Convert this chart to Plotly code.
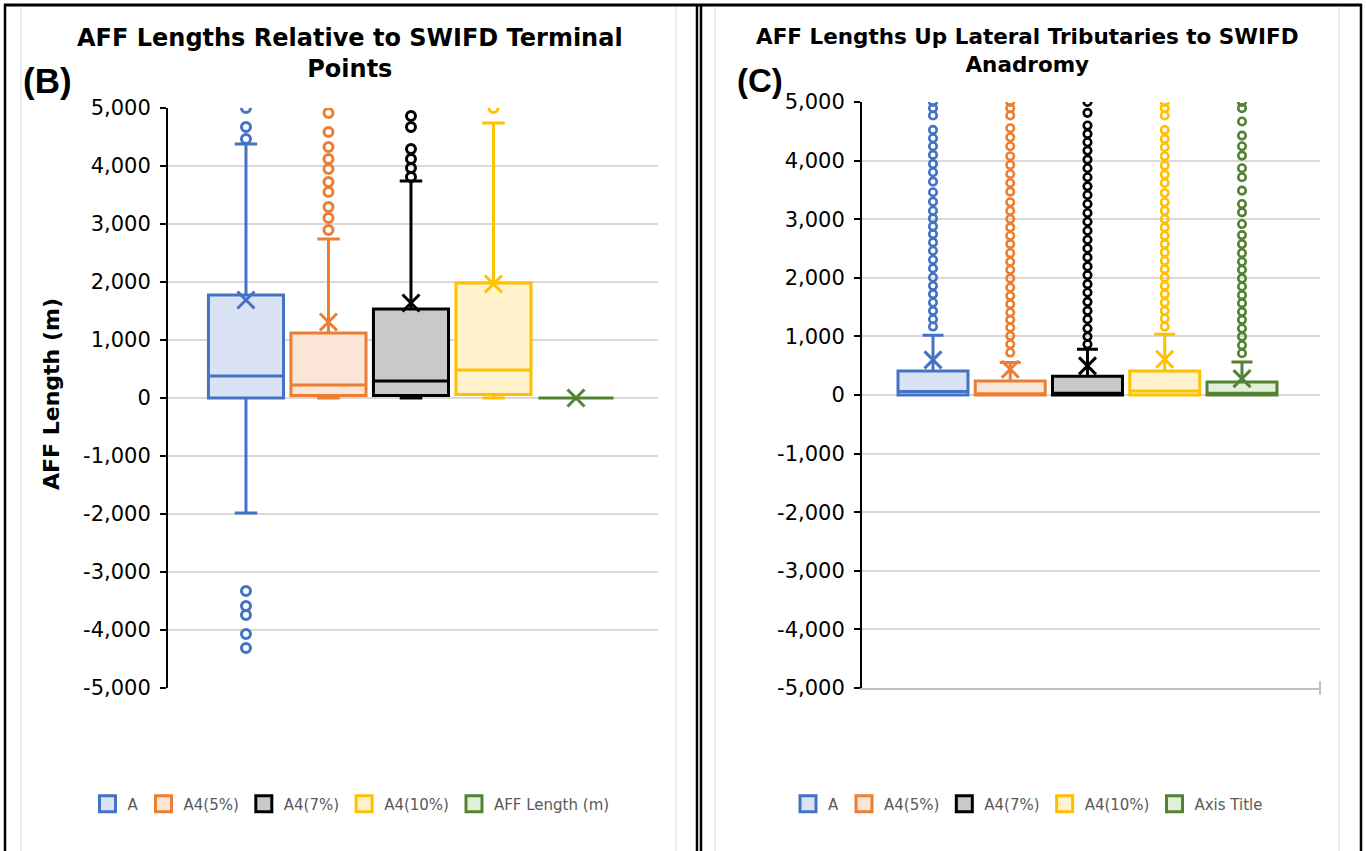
import plotly.graph_objects as go

W, H = 1366, 851

# ---------------- data ----------------
series_left = ["A", "A4(5%)", "A4(7%)", "A4(10%)", "AFF Length (m)"]
series_right = ["A", "A4(5%)", "A4(7%)", "A4(10%)", "Axis Title"]
line_colors = ["#4472C4", "#ED7D31", "#000000", "#FFC000", "#548235"]
fill_colors = ["#DAE3F3", "#FBE5D6", "#C9C9C9", "#FFF2CC", "#E2F0D9"]

# (B) AFF Lengths Relative to SWIFD Terminal Points
left_q1 = [0, 45, 45, 60, 0]
left_median = [379, 224, 293, 483, 0]
left_q3 = [1776, 1121, 1534, 1983, 0]
left_lower = [-1983, 0, 0, 0, 0]
left_upper = [4380, 2741, 3741, 4741, 0]
left_mean = [1690, 1310, 1638, 1966, 0]
left_out_A = [5000, 4672, 4465, -3328, -3586, -3741, -4069, -4310]
left_out_A4_5 = [5080, 4914, 4586, 4328, 4121, 3948, 3724, 3552, 3293, 3103, 2897]
left_out_A4_7 = [4862, 4672, 4293, 4121, 3966, 3810]
left_out_A4_10 = [5000]
left_out_AFF = []

# (C) AFF Lengths Up Lateral Tributaries to SWIFD Anadromy
right_q1 = [0, 0, 0, 0, 0]
right_median = [60, 20, 30, 68, 30]
right_q3 = [410, 240, 320, 410, 222]
right_lower = [0, 0, 0, 0, 0]
right_upper = [1020, 553, 781, 1037, 564]
right_mean = [600, 440, 496, 610, 280]
right_out_A = [5000, 4895, 4769, 4524, 4382, 4245, 4097, 3943, 3801, 3641, 3459, 3299,
               3145, 3014, 2877, 2746, 2604, 2462, 2308, 2160, 2006, 1863, 1721, 1578,
               1436, 1293, 1168]
right_out_A4_5 = [5000, 4895, 4769, 4553, 4399, 4245, 4074, 3926, 3772, 3618, 3470, 3288,
                  3145, 3003, 2860, 2718, 2575, 2422, 2274, 2137, 1989, 1835, 1692, 1550,
                  1407, 1282, 1151, 1009, 866, 724]
right_out_A4_7 = [5000, 4815, 4598, 4456, 4313, 4171, 4017, 3869, 3715, 3561, 3413, 3259,
                  3105, 2957, 2803, 2650, 2501, 2348, 2194, 2046, 1892, 1749, 1590, 1436,
                  1293, 1134, 997, 866]
right_out_A4_10 = [5000, 4895, 4769, 4524, 4370, 4228, 4074, 3915, 3761, 3618, 3447, 3288,
                   3145, 3003, 2860, 2718, 2575, 2433, 2291, 2148, 2006, 1863, 1721, 1578,
                   1436, 1305, 1168]
right_out_AT = [5000, 4895, 4667, 4427, 4245, 4085, 3869, 3715, 3487, 3259, 3117, 2917,
                2729, 2575, 2422, 2274, 2137, 1989, 1852, 1704, 1567, 1419, 1282, 1134,
                997, 849, 712]

y_ticks = [-5000, -4000, -3000, -2000, -1000, 0, 1000, 2000, 3000, 4000, 5000]
y_tick_text = ["-5,000", "-4,000", "-3,000", "-2,000", "-1,000", "0",
               "1,000", "2,000", "3,000", "4,000", "5,000"]

left_outliers = [left_out_A, left_out_A4_5, left_out_A4_7, left_out_A4_10, left_out_AFF]
right_outliers = [right_out_A, right_out_A4_5, right_out_A4_7, right_out_A4_10, right_out_AT]


def px(x):
    return x / W


def py(y):
    return 1 - y / H


fig = go.Figure()


def add_panel(names, q1, med, q3, lo, hi, mean, outs, xa, ya, legend, box_w, out_size, out_lw):
    for i, n in enumerate(names):
        fig.add_trace(go.Box(
            x=[n], q1=[q1[i]], median=[med[i]], q3=[q3[i]],
            lowerfence=[lo[i]], upperfence=[hi[i]],
            width=box_w, whiskerwidth=0.3,
            line=dict(color=line_colors[i], width=3),
            fillcolor=fill_colors[i], boxpoints=False,
            showlegend=False, hoverinfo="skip", xaxis=xa, yaxis=ya,
        ))
    for i, n in enumerate(names):
        if outs[i]:
            fig.add_trace(go.Scatter(
                x=[n] * len(outs[i]), y=outs[i], mode="markers",
                marker=dict(symbol="circle-open", size=out_size, color=line_colors[i],
                            line=dict(color=line_colors[i], width=out_lw)),
                showlegend=False, hoverinfo="skip", xaxis=xa, yaxis=ya,
            ))
    for i, n in enumerate(names):
        fig.add_trace(go.Scatter(
            x=[n], y=[mean[i]], mode="markers",
            marker=dict(symbol="x-thin-open", size=17, color=line_colors[i],
                        line=dict(color=line_colors[i], width=3)),
            showlegend=False, hoverinfo="skip", xaxis=xa, yaxis=ya,
        ))
    for i, n in enumerate(names):
        fig.add_trace(go.Scatter(
            x=[None], y=[None], mode="markers", name=n, legend=legend,
            marker=dict(symbol="square", size=16, color=fill_colors[i],
                        line=dict(color=line_colors[i], width=3)),
            showlegend=True, hoverinfo="skip", xaxis=xa, yaxis=ya,
        ))


add_panel(series_left, left_q1, left_median, left_q3, left_lower, left_upper, left_mean,
          left_outliers, "x", "y", "legend", 0.91, 9, 3)
add_panel(series_right, right_q1, right_median, right_q3, right_lower, right_upper, right_mean,
          right_outliers, "x2", "y2", "legend2", 0.906, 7.5, 2.6)

tickfont = dict(family="DejaVu Sans", size=21, color="#000000")
yax_common = dict(
    range=[-5000, 5000], tickvals=y_ticks, ticktext=y_tick_text, showgrid=True,
    gridcolor="#D9D9D9", gridwidth=1.5, zeroline=False, showline=True,
    linecolor="#000000", linewidth=2, ticks="outside", ticklen=6, tickwidth=2,
    tickcolor="#000000", tickfont=tickfont, automargin=False, ticklabelstandoff=5,
    fixedrange=True,
)

legend_font = dict(family="DejaVu Sans", size=15, color="#595959")
fig.update_layout(
    width=W, height=H, autosize=False,
    margin=dict(l=0, r=0, t=0, b=0),
    paper_bgcolor="white", plot_bgcolor="white",
    boxmode="overlay",
    xaxis=dict(domain=[px(168), px(658)], anchor="y", type="category",
               categoryorder="array", categoryarray=series_left,
               range=[-0.945, 4.994], showticklabels=False, showgrid=False,
               showline=False, zeroline=False, ticks="", automargin=False, fixedrange=True),
    yaxis=dict(domain=[py(688), py(108)], anchor="x", **yax_common),
    xaxis2=dict(domain=[px(862), px(1320)], anchor="y2", type="category",
                categoryorder="array", categoryarray=series_right,
                range=[-0.919, 5.01], showticklabels=False, showgrid=False,
                showline=True, linecolor="#BFBFBF", linewidth=2, zeroline=False,
                ticks="", automargin=False, fixedrange=True),
    yaxis2=dict(domain=[py(688), py(102)], anchor="x2", **yax_common),
    legend=dict(orientation="h", x=px(351), xanchor="center", y=py(804), yanchor="middle",
                font=legend_font, itemsizing="trace", bgcolor="rgba(0,0,0,0)"),
    legend2=dict(orientation="h", x=px(1028), xanchor="center", y=py(804), yanchor="middle",
                 font=legend_font, itemsizing="trace", bgcolor="rgba(0,0,0,0)"),
)

fig.add_annotation(text="<b>AFF Lengths Relative to SWIFD Terminal<br>Points</b>",
                   x=px(350), y=py(53), xref="paper", yref="paper",
                   xanchor="center", yanchor="middle", showarrow=False,
                   font=dict(family="DejaVu Sans", size=24, color="#000000"))
fig.add_annotation(text="<b>AFF Lengths Up Lateral Tributaries to SWIFD<br>Anadromy</b>",
                   x=px(1027), y=py(50), xref="paper", yref="paper",
                   xanchor="center", yanchor="middle", showarrow=False,
                   font=dict(family="DejaVu Sans", size=21.5, color="#000000"))
fig.add_annotation(text="<b>(B)</b>", x=px(47), y=py(81), xref="paper", yref="paper",
                   xanchor="center", yanchor="middle", showarrow=False,
                   font=dict(family="Liberation Sans", size=35, color="#000000"))
fig.add_annotation(text="<b>(C)</b>", x=px(760), y=py(81), xref="paper", yref="paper",
                   xanchor="center", yanchor="middle", showarrow=False,
                   font=dict(family="Liberation Sans", size=33, color="#000000"))
fig.add_annotation(text="<b>AFF Length (m)</b>", x=px(52), y=py(394), xref="paper",
                   yref="paper", xanchor="center", yanchor="middle", textangle=-90,
                   showarrow=False, font=dict(family="DejaVu Sans", size=22, color="#000000"))

shapes = []
# light gray chart-area borders
for xg in (21, 676, 715, 1339):
    shapes.append(dict(type="line", xref="paper", yref="paper", x0=px(xg), x1=px(xg),
                       y0=py(7), y1=py(851), line=dict(color="#D9D9D9", width=1)))
# black outer frames
for xb in (5, 697, 701, 1361):
    shapes.append(dict(type="line", xref="paper", yref="paper", x0=px(xb), x1=px(xb),
                       y0=py(4), y1=py(851), line=dict(color="#000000", width=2.5)))
shapes.append(dict(type="line", xref="paper", yref="paper", x0=px(4), x1=px(1362),
                   y0=py(5), y1=py(5), line=dict(color="#000000", width=3)))
# right-end tick on the category axis of panel C
shapes.append(dict(type="line", xref="paper", yref="paper", x0=px(1320), x1=px(1320),
                   y0=py(681), y1=py(695), line=dict(color="#BFBFBF", width=2)))
fig.update_layout(shapes=shapes)

fig.write_html("out.html",
               config={"displayModeBar": False},
               post_script="document.body.style.margin='0px';"
                           "document.body.style.overflow='hidden';")
